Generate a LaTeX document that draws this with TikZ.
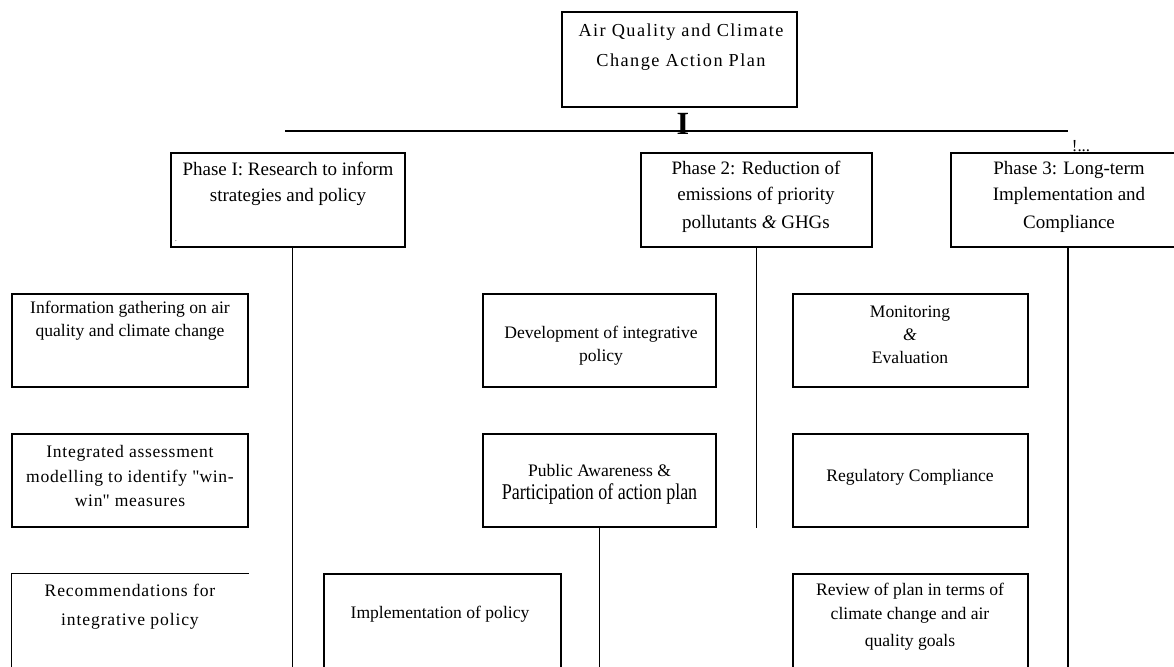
\documentclass[tikz,border=0pt]{standalone}
\usepackage{fontspec}
\setmainfont{Liberation Serif}

\tikzset{
  planBox/.style={rectangle, draw=black, line width=0.8pt, inner sep=0pt,
    minimum width=5.85cm, minimum height=2.325cm},
  planText/.style={align=center, inner sep=0pt,
    font=\fontsize{12.5}{16.5}\selectfont},
  phaseText/.style={align=center, inner sep=0pt,
    font=\fontsize{13.5}{18.5}\selectfont},
  link/.style={line width=0.8pt}
}

\begin{document}
\begin{tikzpicture}[x=0.025cm, y=-0.025cm]
\useasboundingbox (0,0) rectangle (1174,666);
\clip (0,0) rectangle (1174,666);

% action plan
\node[planBox, minimum width=5.875cm, minimum height=2.375cm] (plan) at (679.5,59.5) {};
\node[planText, font=\fontsize{13}{21}\selectfont\addfontfeatures{LetterSpace=8}] (planT) at (681,47) {Air Quality and Climate\\Change Action Plan};
\node[inner sep=0pt, font=\fontsize{23}{23}\selectfont\bfseries] (bar) at (683,124) {I};

% the three phases
\node[planBox, minimum height=2.35cm] (ph1) at (288,200) {};
\node[phaseText] (ph1T) at (288,184) {Phase I: Research to inform\\strategies and policy};
\node[inner sep=0pt, font=\tiny] (dot) at (176,241) {.};
\node[planBox, minimum width=5.775cm, minimum height=2.35cm] (ph2) at (756.5,200) {};
\node[phaseText] (ph2T) at (756,197) {Phase 2: Reduction of\\emissions of priority\\[1pt]pollutants \textit{\&} GHGs};
\node[planBox, minimum height=2.35cm] (ph3) at (1068,200) {};
\node[phaseText] (ph3T) at (1069,197) {Phase 3: Long-term\\Implementation and\\[1pt]Compliance};
\node[inner sep=0pt, font=\fontsize{12}{12}\selectfont] (mark) at (1081,146) {!...};

% phase 1 tasks
\node[planBox, minimum width=5.9cm] (info) at (130,340.5) {};
\node[planText] (infoT) at (130,321) {Information gathering on air\\quality and climate change};
\node[planBox, minimum width=5.9cm] (integ) at (130,480.5) {};
\node[planText, font=\fontsize{12.5}{17.5}\selectfont\addfontfeatures{LetterSpace=4}] (integT) at (130,476) {Integrated assessment\\modelling to identify \textquotedbl win-\\win\textquotedbl{} measures};
\node[planBox, draw=none, minimum width=5.9cm, minimum height=3cm] (rec) at (130,634) {};
\draw[link] (rec.south west) |- (rec.north east);
\node[planText, font=\fontsize{12.5}{20.5}\selectfont\addfontfeatures{LetterSpace=5}] (recT) at (130,607) {Recommendations for\\integrative policy};

% phase 2 tasks
\node[planBox, minimum width=5.825cm] (dev) at (599.5,340.5) {};
\node[planText] (devT) at (601,346) {Development of integrative\\policy};
\node[planBox, minimum width=5.825cm] (pub) at (599.5,480.5) {};
\node[planText] (pubT) at (599.5,484) {Public Awareness \&\\{\fontsize{16}{17}\selectfont\addfontfeatures{FakeStretch=0.8}Participation of action plan}};
\node[planBox, minimum width=5.925cm, minimum height=3cm] (impl) at (442.5,634) {};
\node[planText] (implT) at (440,614) {Implementation of policy};

% phase 3 tasks
\node[planBox, minimum width=5.875cm] (mon) at (910.5,340.5) {};
\node[planText] (monT) at (910,335) {Monitoring\\\textit{\&}\\Evaluation};
\node[planBox, minimum width=5.875cm] (reg) at (910.5,480.5) {};
\node[planText] (regT) at (910,477) {Regulatory Compliance};
\node[planBox, minimum width=5.875cm, minimum height=3cm] (rev) at (910.5,634) {};
\node[planText] (revT) at (910,617) {Review of plan in terms of\\climate change and air\\[3pt]quality goals};

% connectors
\coordinate (railL) at (285,131);
\coordinate (base) at (0,672);
\draw[link] (railL) -- (railL -| ph3.north);
\draw[link] ([xshift=3pt]ph1.south) -- ([xshift=3pt]ph1.south |- base);
\draw[link] (ph2.south) -- (ph2.south |- pub.south);
\draw[link] (ph3.south) -- (ph3.south |- base);
\draw[link] (pub.south) -- (pub.south |- base);
\end{tikzpicture}
\end{document}
